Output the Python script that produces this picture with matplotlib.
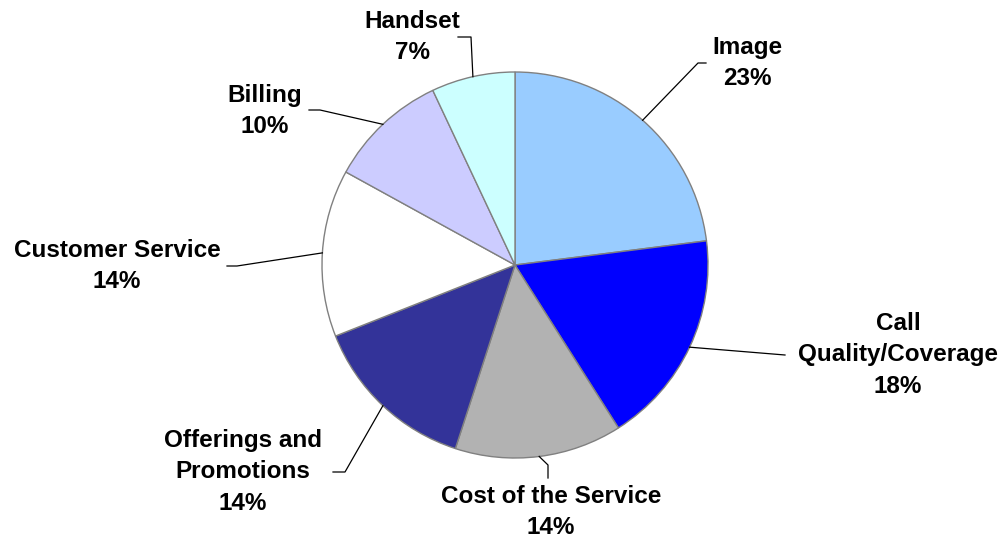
import numpy as np
import matplotlib.pyplot as plt

labels = ["Image", "Call\nQuality/Coverage", "Cost of the Service",
          "Offerings and\nPromotions", "Customer Service", "Billing", "Handset"]
shares = [23, 18, 14, 14, 14, 10, 7]
colors = ["#99CCFF", "#0000FF", "#B2B2B2", "#333399", "#FFFFFF", "#CCCCFF", "#CCFFFF"]

# label layout in pixel coords (y down): text centre, then leader bend points
text_pos = [(747, 63), (898, 355), (551, 512), (243, 472), (117, 266), (265, 111), (412, 37)]
bends = [[(698, 63), (706, 63)],
         [(785, 355)],
         [(548, 465), (548, 478)],
         [(345, 472), (333, 472)],
         [(237, 266), (227, 266)],
         [(320, 110), (309, 110)],
         [(471, 37), (458, 37)]]

W, H = 1007, 539
cx, cy, r = 515, 265, 193

fig = plt.figure(figsize=(W / 100, H / 100), dpi=100)
ax = fig.add_axes([0, 0, 1, 1])
ax.set_xlim(0, W)
ax.set_ylim(0, H)
ax.set_aspect('equal')
ax.axis('off')

wedges, _ = ax.pie(shares, colors=colors, startangle=90, counterclock=False,
                   center=(cx, H - cy), radius=r,
                   wedgeprops=dict(edgecolor="#808080", linewidth=1.0))
ax.set_xlim(0, W)
ax.set_ylim(0, H)

for w, lab, s, (tx, ty), pts in zip(wedges, labels, shares, text_pos, bends):
    mid = np.deg2rad((w.theta1 + w.theta2) / 2)
    x0 = cx + r * np.cos(mid)
    y0 = (H - cy) + r * np.sin(mid)
    xs = [x0] + [p[0] for p in pts]
    ys = [y0] + [H - p[1] for p in pts]
    ax.plot(xs, ys, color="black", lw=0.9)
    ax.text(tx, H - ty, f"{lab}\n{s}%", ha="center", va="center",
            fontsize=17.5, fontweight="bold", family="Liberation Sans",
            linespacing=1.45)

fig.savefig("out.png", dpi=100)
